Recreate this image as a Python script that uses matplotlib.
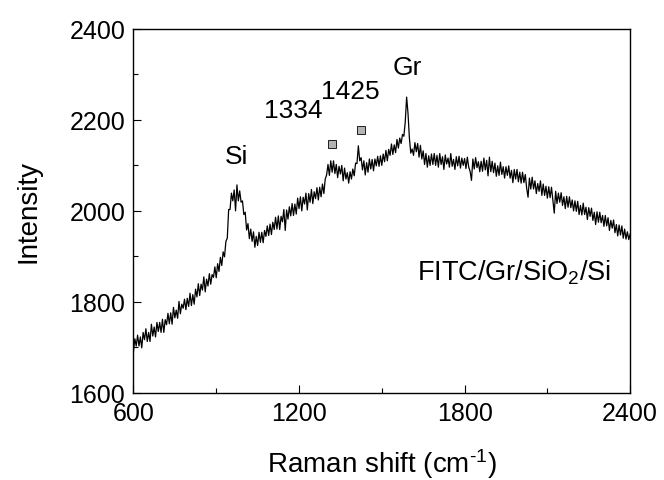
import numpy as np
import matplotlib
matplotlib.use("Agg")
import matplotlib.pyplot as plt
from matplotlib.ticker import MultipleLocator

plt.rcParams['font.family'] = ['Liberation Sans', 'DejaVu Sans']
plt.rcParams['mathtext.fontset'] = 'custom'
plt.rcParams['mathtext.rm'] = 'Liberation Sans'
plt.rcParams['mathtext.it'] = 'Liberation Sans'

# Raman shift sampling (cm^-1), 5 cm^-1 step from 600 to 2400
shift = np.arange(600, 2401, 5)

intensity = [
    1691, 1719, 1703, 1727, 1703, 1723, 1699, 1733, 1717, 1741, 1713, 1733, 1713, 1751, 1725, 1745, 1723, 1755, 1735, 1755,
    1733, 1762, 1733, 1761, 1750, 1775, 1752, 1776, 1751, 1788, 1765, 1782, 1764, 1801, 1774, 1795, 1786, 1806, 1783, 1808,
    1790, 1819, 1792, 1816, 1795, 1828, 1811, 1840, 1814, 1839, 1826, 1855, 1822, 1850, 1835, 1862, 1839, 1860, 1854, 1877,
    1853, 1884, 1867, 1898, 1880, 1910, 1899, 1933, 1940, 2003, 2003, 2039, 2022, 2046, 2000, 2057, 2022, 2044, 2019, 2022,
    1992, 1997, 1958, 1972, 1939, 1960, 1933, 1954, 1920, 1944, 1924, 1953, 1931, 1953, 1930, 1957, 1944, 1967, 1946, 1971,
    1948, 1975, 1959, 1986, 1960, 1989, 1959, 1988, 1976, 2003, 1957, 2002, 1982, 2009, 1989, 2016, 1990, 2015, 1993, 2028,
    2005, 2031, 2000, 2030, 2015, 2039, 2002, 2038, 2019, 2047, 2016, 2042, 2027, 2051, 2024, 2052, 2031, 2059, 2038, 2070,
    2079, 2102, 2078, 2110, 2085, 2110, 2082, 2102, 2073, 2098, 2081, 2100, 2066, 2094, 2070, 2084, 2061, 2086, 2070, 2092,
    2077, 2105, 2104, 2143, 2110, 2117, 2090, 2110, 2079, 2106, 2085, 2114, 2092, 2113, 2088, 2114, 2099, 2120, 2098, 2121,
    2100, 2125, 2108, 2133, 2110, 2135, 2122, 2147, 2124, 2145, 2128, 2157, 2138, 2160, 2148, 2168, 2164, 2196, 2250, 2214,
    2160, 2127, 2136, 2122, 2150, 2130, 2148, 2118, 2144, 2114, 2132, 2102, 2126, 2096, 2121, 2100, 2125, 2102, 2126, 2100,
    2122, 2096, 2126, 2102, 2119, 2091, 2123, 2103, 2116, 2096, 2126, 2098, 2113, 2091, 2119, 2099, 2120, 2094, 2116, 2100,
    2115, 2093, 2118, 2096, 2087, 2067, 2114, 2092, 2117, 2095, 2108, 2086, 2109, 2087, 2116, 2090, 2111, 2077, 2118, 2086,
    2109, 2084, 2105, 2076, 2099, 2078, 2107, 2080, 2097, 2072, 2097, 2078, 2099, 2072, 2089, 2062, 2091, 2070, 2091, 2064,
    2085, 2061, 2085, 2062, 2080, 2050, 2030, 2072, 2048, 2074, 2048, 2066, 2038, 2060, 2043, 2066, 2034, 2059, 2034, 2054,
    2028, 2053, 2029, 2052, 2024, 1995, 2043, 2016, 2039, 2019, 2040, 2012, 2031, 2005, 2032, 2008, 2031, 2007, 2024, 2000,
    2022, 1999, 2021, 1992, 2012, 1991, 2017, 1992, 2008, 1981, 2007, 1988, 2006, 1979, 1997, 1970, 1998, 1975, 1997, 1974,
    1990, 1966, 1990, 1967, 1985, 1957, 1979, 1962, 1980, 1952, 1970, 1945, 1969, 1947, 1967, 1940, 1960, 1938, 1954, 1937, 1949,
]

# Peak labels
peak_labels = ["Si", "1334", "1425", "Gr"]
peak_label_x = [975, 1178, 1385, 1591]
peak_label_y = [2120, 2221, 2263, 2316]

# Square markers for FITC bands
marker_x = [1318, 1424]
marker_y = [2147, 2178]

xticks = [600, 1200, 1800, 2400]
yticks = [1600, 1800, 2000, 2200, 2400]

fig = plt.figure(figsize=(6.64, 4.81), dpi=100)
ax = fig.add_axes([0.201, 0.181, 0.748, 0.757])

ax.plot(shift, intensity, color='black', lw=0.9)
ax.plot(marker_x, marker_y, linestyle='none', marker='s', markersize=6,
        markerfacecolor='#b4b4b4', markeredgecolor='black', markeredgewidth=0.6)

for lab, lx, ly in zip(peak_labels, peak_label_x, peak_label_y):
    ax.text(lx, ly, lab, ha='center', va='center', fontsize=19)

ax.text(1628, 1866, r'FITC/Gr/SiO$_2$/Si', ha='left', va='center', fontsize=19.5)

ax.set_xlim(600, 2400)
ax.set_ylim(1600, 2400)
ax.set_xticks(xticks)
ax.set_yticks(yticks)
ax.xaxis.set_minor_locator(MultipleLocator(300))
ax.yaxis.set_minor_locator(MultipleLocator(100))
ax.tick_params(which='both', direction='in', top=False, right=False, labelsize=18)
ax.tick_params(which='major', length=6, width=0.8)
ax.tick_params(which='minor', length=3.5, width=0.8)
ax.tick_params(axis='x', which='major', pad=6)
ax.tick_params(axis='y', which='major', pad=6)
for s in ax.spines.values():
    s.set_linewidth(1.0)

ax.set_xlabel('Raman shift (cm$^{\u2010\\mathregular{1}}$)', fontsize=20, labelpad=15)
ax.set_ylabel('Intensity', fontsize=20, labelpad=20)

fig.savefig('out.png', dpi=100)
